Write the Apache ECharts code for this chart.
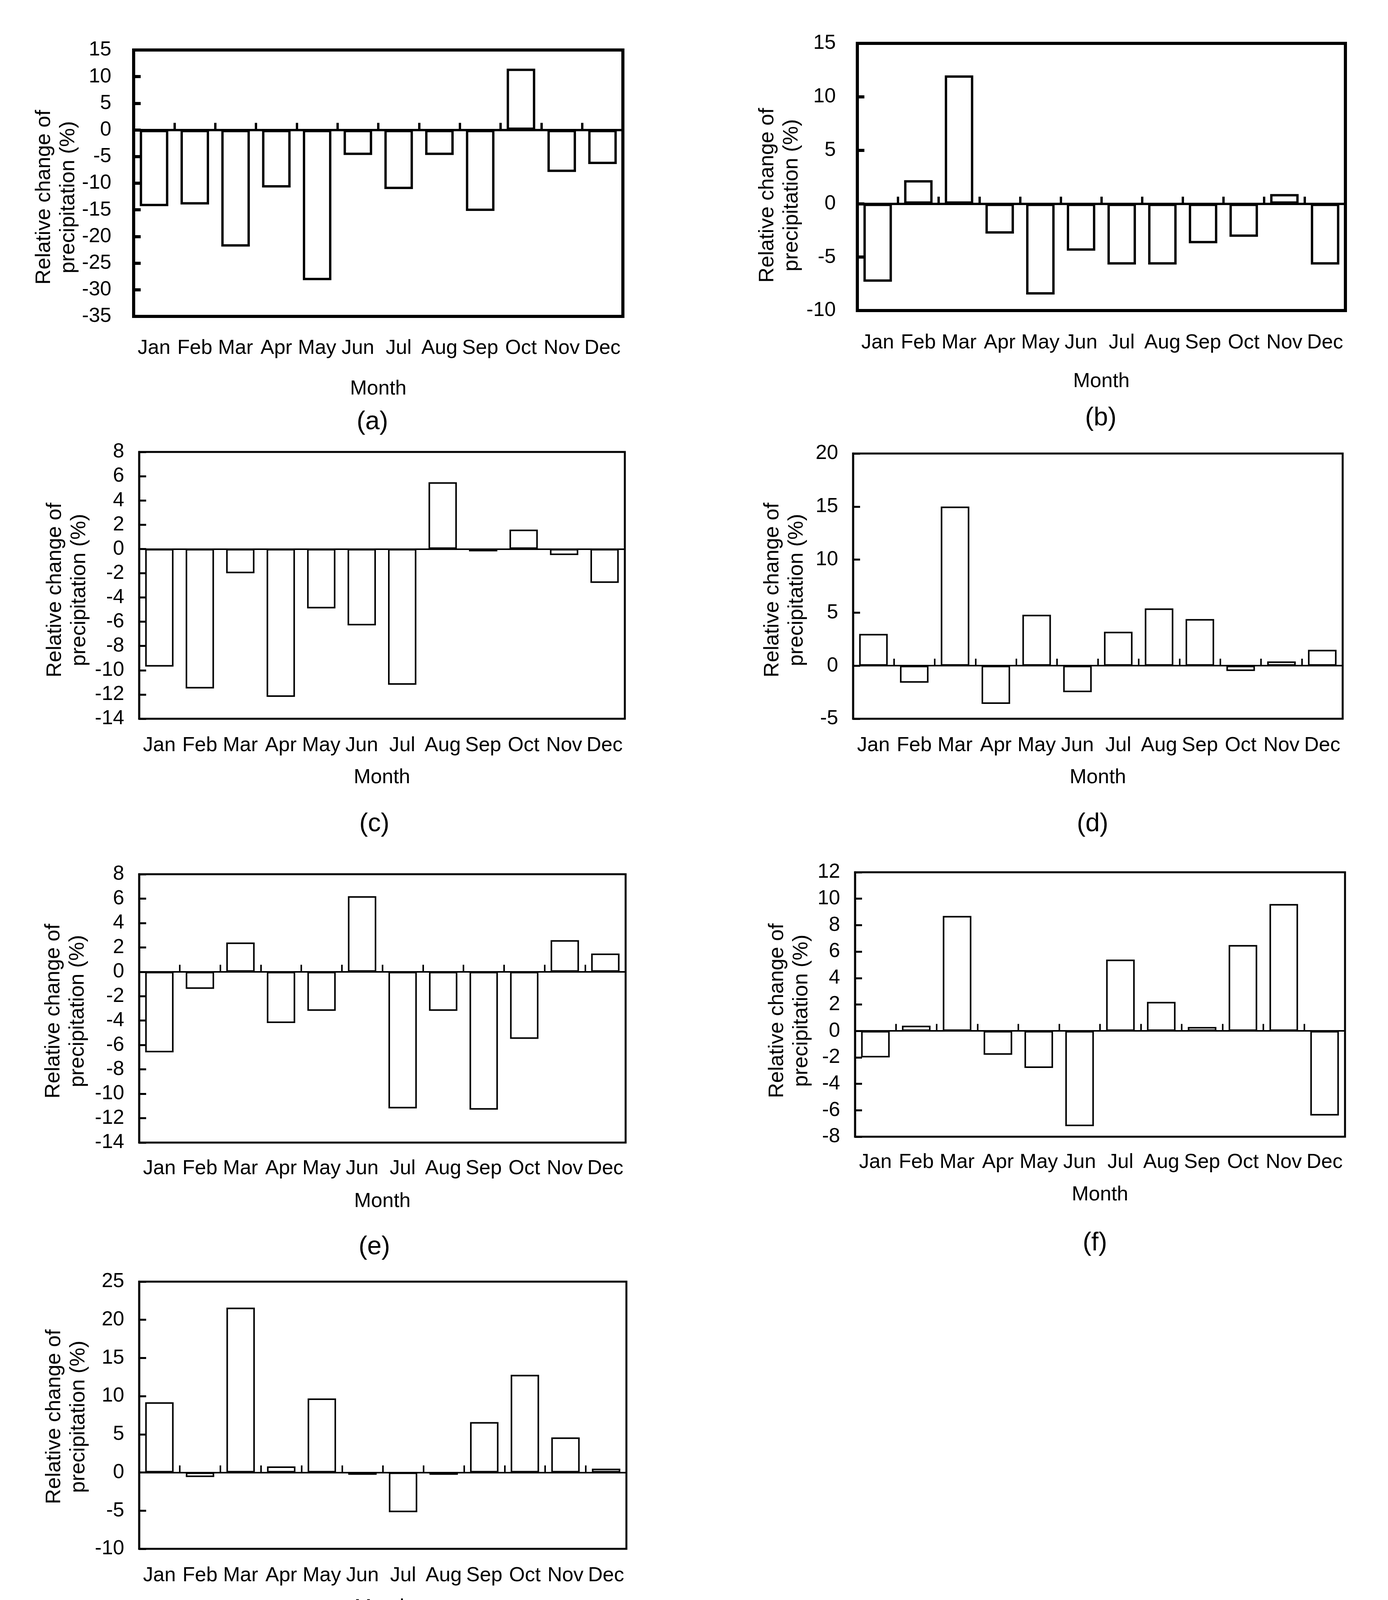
<!DOCTYPE html>
<html>
<head>
<meta charset="utf-8">
<script src="https://cdn.jsdelivr.net/npm/echarts@6/dist/echarts.min.js"></script>
<style>
html,body{margin:0;padding:0;background:#ffffff;}
#chart{width:3552px;height:4271px;}
</style>
</head>
<body>
<div id="chart"></div>
<script>
// ---------------- DATA ----------------
const months = ['Jan','Feb','Mar','Apr','May','Jun','Jul','Aug','Sep','Oct','Nov','Dec'];

const valuesA = [-14.3, -14.0, -21.9, -10.8, -28.2, -4.7, -11.1, -4.7, -15.2, 11.5, -7.9, -6.4];
const valuesB = [-7.3, 2.2, 12.0, -2.8, -8.5, -4.4, -5.7, -5.7, -3.7, -3.1, 0.9, -5.7];
const valuesC = [-9.7, -11.5, -2.0, -12.2, -4.9, -6.3, -11.2, 5.5, -0.2, 1.6, -0.5, -2.8];
const valuesD = [3.0, -1.6, 15.0, -3.6, 4.8, -2.5, 3.2, 5.4, 4.4, -0.5, 0.4, 1.5];
const valuesE = [-6.6, -1.4, 2.4, -4.2, -3.2, 6.2, -11.2, -3.2, -11.3, -5.5, 2.6, 1.5];
const valuesF = [-2.0, 0.4, 8.7, -1.8, -2.8, -7.2, 5.4, 2.2, 0.3, 6.5, 9.6, -6.4];
const valuesG = [9.2, -0.6, 21.6, 0.8, 9.7, -0.3, -5.2, -0.3, 6.6, 12.8, 4.6, 0.5];

const panelLabels = ['(a)','(b)','(c)','(d)','(e)','(f)','(g)'];
const yMin  = [-35, -10, -14, -5, -14, -8, -10];
const yMax  = [15, 15, 8, 20, 8, 12, 25];
const yStep = [5, 5, 2, 5, 2, 2, 5];
const yTitle = 'Relative change of\nprecipitation (%)';
const xTitle = 'Month';

const allValues = [valuesA, valuesB, valuesC, valuesD, valuesE, valuesF, valuesG];

// ---------------- LAYOUT (positions & styles only) ----------------
const layout = [
  {l:342,  r:1594, t:128,  b:810,  heavy:true,  yMargin:57, xMargin:56, nameGapX:160, nameGapY:135, shift:36, lx:953,  ly:1081, xTick:true},
  {l:2194, r:3443, t:111,  b:795,  heavy:true,  yMargin:55, xMargin:57, nameGapX:156, nameGapY:137, shift:47, lx:2817, ly:1071, xTick:true},
  {l:356,  r:1599, t:1157, b:1840, heavy:false, yMargin:38, xMargin:43, nameGapX:125, nameGapY:122, shift:12, lx:958,  ly:2110, xTick:false},
  {l:2183, r:3436, t:1161, b:1840, heavy:false, yMargin:38, xMargin:43, nameGapX:125, nameGapY:113, shift:10, lx:2796, ly:2110, xTick:true},
  {l:356,  r:1601, t:2238, b:2925, heavy:false, yMargin:38, xMargin:41, nameGapX:125, nameGapY:126, shift:7,  lx:958,  ly:3193, xTick:true},
  {l:2188, r:3442, t:2233, b:2910, heavy:false, yMargin:38, xMargin:40, nameGapX:123, nameGapY:106, shift:16, lx:2802, ly:3183, xTick:true},
  {l:356,  r:1603, t:3281, b:3965, heavy:false, yMargin:38, xMargin:43, nameGapX:125, nameGapY:124, shift:4,  lx:958,  ly:4228, xTick:true}
];

const FONT = 'Liberation Sans, Arial, Helvetica, sans-serif';
const FS = 52;

const grids = [], xAxes = [], yAxes = [], series = [], graphics = [];

layout.forEach((p, i) => {
  const frameW = p.heavy ? 8 : 5;
  const barW = p.heavy ? 6 : 4;
  const zeroW = p.heavy ? 6 : 4;
  grids.push({
    left: p.l, top: p.t, width: p.r - p.l, height: p.b - p.t,
    show: true, borderColor: '#000', borderWidth: frameW, backgroundColor: 'transparent'
  });
  // axis drawn at zero (line + upward ticks between categories)
  xAxes.push({
    type: 'category', gridIndex: i, data: months, position: 'top', boundaryGap: true,
    axisLine: {show: true, onZero: true, lineStyle: {color: '#000', width: zeroW}},
    axisTick: {show: p.xTick, inside: false, length: 18, interval: 0, lineStyle: {color: '#000', width: zeroW}},
    axisLabel: {show: false}, splitLine: {show: false}
  });
  // axis carrying the month labels at the bottom of the frame
  xAxes.push({
    type: 'category', gridIndex: i, data: months, position: 'bottom', boundaryGap: true,
    axisLine: {show: false, onZero: false}, axisTick: {show: false},
    axisLabel: {show: true, interval: 0, hideOverlap: false, margin: p.xMargin, color: '#000', fontSize: FS, fontFamily: FONT},
    name: xTitle, nameLocation: 'middle', nameGap: p.nameGapX,
    nameTextStyle: {color: '#000', fontSize: FS, fontFamily: FONT},
    splitLine: {show: false}
  });
  yAxes.push({
    type: 'value', gridIndex: i, min: yMin[i], max: yMax[i], interval: yStep[i],
    axisLine: {show: true, onZero: false, lineStyle: {color: '#000', width: frameW}},
    axisTick: {show: true, inside: true, length: 18, lineStyle: {color: '#000', width: frameW}},
    axisLabel: {show: true, margin: p.yMargin, color: '#000', fontSize: FS, fontFamily: FONT},
    splitLine: {show: false},
    name: yTitle, nameLocation: 'middle', nameGap: p.nameGapY,
    nameTextStyle: {color: '#000', fontSize: 54, lineHeight: 62, fontFamily: FONT, align: 'center', padding: [0, 2 * p.shift, 0, 0]}
  });
  series.push({
    type: 'bar', xAxisIndex: 2 * i, yAxisIndex: i, data: allValues[i],
    barCategoryGap: '30%', silent: true,
    itemStyle: {color: '#ffffff', borderColor: '#000', borderWidth: barW}
  });
  graphics.push({
    type: 'text', x: p.lx, y: p.ly, silent: true,
    style: {text: panelLabels[i], fill: '#000', fontSize: 66, fontFamily: FONT, align: 'center', verticalAlign: 'middle'}
  });
});

const chart = echarts.init(document.getElementById('chart'), null, {renderer: 'canvas'});
chart.setOption({
  animation: false,
  backgroundColor: '#ffffff',
  grid: grids,
  xAxis: xAxes,
  yAxis: yAxes,
  series: series,
  graphic: {elements: graphics}
});
</script>
</body>
</html>
